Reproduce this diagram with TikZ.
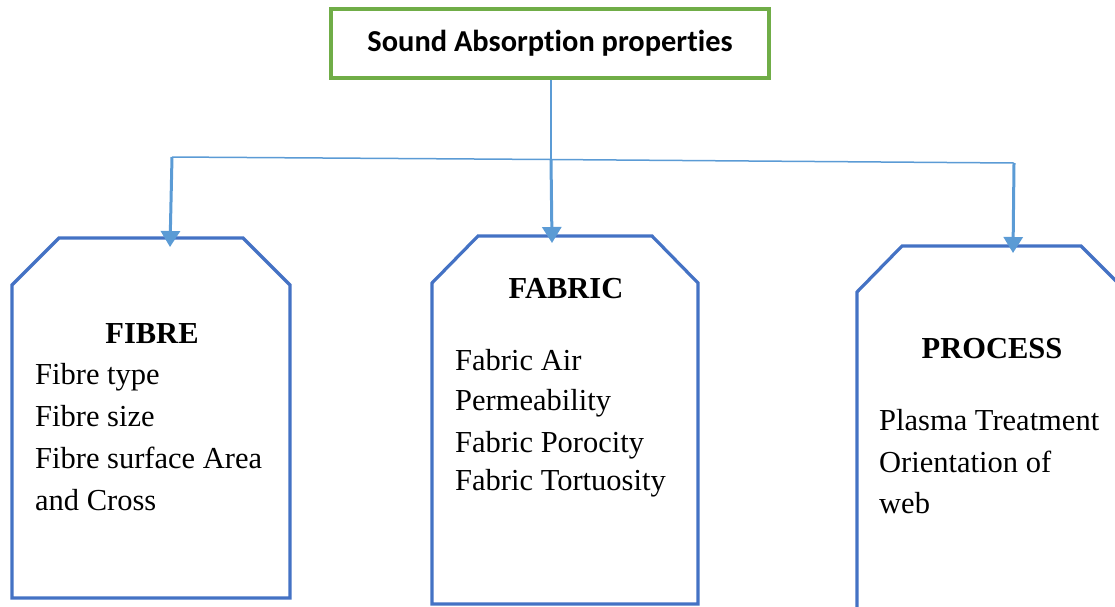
\documentclass[tikz,border=0pt]{standalone}
\usepackage{fontspec}
\setmainfont{Liberation Serif}
\newfontfamily\titlefont[Ligatures=NoCommon]{Carlito}
\usetikzlibrary{arrows.meta}
\definecolor{boxblue}{HTML}{4472C4}
\definecolor{arrblue}{HTML}{5B9BD5}
\definecolor{titlegreen}{HTML}{70AD47}
\begin{document}
\begin{tikzpicture}[x=1pt,y=-1pt,
  catbox/.style={draw=boxblue, line width=3.2pt, line join=miter},
  headtxt/.style={font=\fontsize{30.5}{36}\selectfont\bfseries, anchor=base, inner sep=0pt},
  bodytxt/.style={font=\fontsize{30.5}{36}\selectfont, anchor=base west, inner sep=0pt},
  bus/.style={draw=arrblue, line width=1.5pt},
  feed/.style={draw=arrblue, line width=3pt, -{Triangle[width=19pt,length=16pt]}}
]
\useasboundingbox (0,0) rectangle (1115,606);
\clip (0,0) rectangle (1115,606);

% title
\node[draw=titlegreen, line width=3.2pt, minimum width=438pt, minimum height=69pt,
      inner sep=0pt, font=\titlefont\bfseries\fontsize{30.4}{36}\selectfont]
  (title) at (550,43.5) {Sound Absorption properties};

% chamfered boxes
\draw[catbox] (12,598) -- (12,285) -- (59,238) -- (243,238) -- (290,285) -- (290,598) -- cycle;
\draw[catbox] (432,604) -- (432,283) -- (478,236) -- (652,236) -- (698,283) -- (698,604) -- cycle;
\draw[catbox] (857,630) -- (857,292) -- (902,246) -- (1081,246) -- (1127,292) -- (1127,630) -- cycle;

% bus coordinates and arrow ends
\coordinate (bl) at (172,157);
\coordinate (bm) at (551,159.5);
\coordinate (br) at (1014,163);
\coordinate (e1) at (170,247);
\coordinate (e2) at (552,243);
\coordinate (e3) at (1013,253);

\draw[bus] (title.south -| bm) -- (bm);
\draw[bus] (bl) -- (bm) -- (br);
\draw[feed] (bl) -- (e1);
\draw[feed] (bm) -- (e2);
\draw[feed] (br) -- (e3);

% texts
\node[headtxt] (h1) at (152,343) {FIBRE};
\node[bodytxt] (f1) at (35,384) {Fibre type};
\node[bodytxt] (f2) at (35,426) {Fibre size};
\node[bodytxt] (f3) at (35,468) {Fibre surface Area};
\node[bodytxt] (f4) at (35,510) {and Cross};

\node[headtxt] (h2) at (566,298) {FABRIC};
\node[bodytxt] (b1) at (455,370) {Fabric Air};
\node[bodytxt] (b2) at (455,410) {Permeability};
\node[bodytxt] (b3) at (455,452) {Fabric Porocity};
\node[bodytxt] (b4) at (455,490) {Fabric Tortuosity};

\node[headtxt] (h3) at (992,358) {PROCESS};
\node[bodytxt] (p1) at (879,430) {Plasma Treatment};
\node[bodytxt] (p2) at (879,472) {Orientation of};
\node[bodytxt] (p3) at (879,513) {web};
\end{tikzpicture}
\end{document}
